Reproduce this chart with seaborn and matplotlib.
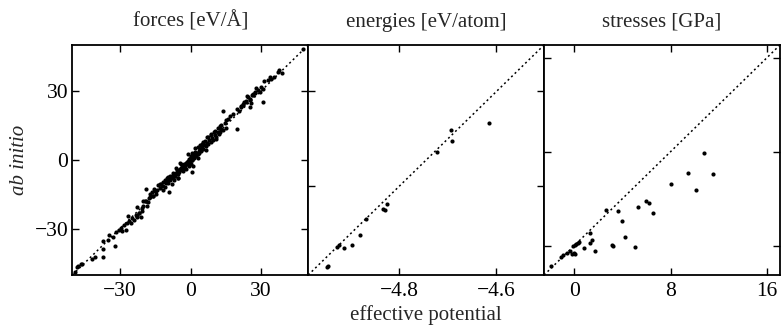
import numpy as np
import pandas as pd
import seaborn as sns
import matplotlib
matplotlib.use("Agg")
import matplotlib.pyplot as plt

# ---------------- data ----------------
force_pred = [
    -49.0, -48.0, -47.6, -46.4, -46.2, -41.8, -40.7, -37.3, -37.3, -37.0, -35.0, -34.5, -33.1,
    -31.9, -31.7, -30.5, -29.7, -29.1, -28.3, -27.4, -27.1, -26.3, -25.2, -24.9, -24.0, -26.6,
    -23.2, -22.6, -22.0, -21.2, -20.6, -20.1, -20.3, -22.6, -22.9, -21.8, -20.6, -19.5, -18.9,
    -18.6, -17.8, -17.2, -16.4, -15.8, -15.3, -14.4, -13.6, -12.7, -11.6, -10.8, -9.3, -9.9,
    -8.8, -7.4, -5.9, -4.5, -3.1, -4.5, -5.1, -1.4, 0.6, 0.6, 2.5, 3.9,
    -1.0, 0.4, 1.8, 3.2, 4.7, 6.1, 7.5, 8.9, 10.3, 11.7, 12.5, 13.1, 14.0, 14.5, 15.1, 15.9,
    16.8, 18.2, 19.6, 19.9, 20.8, 21.6, 22.5, 23.6, 24.2, 25.3, 25.8, 26.7, 27.2,
    47.7, 37.8, 37.0, 38.7, 35.6, 34.4, 33.6, 32.8, 31.1, 29.9, 30.8, 30.8, 28.5, 28.0, 27.4,
    26.5, 26.0, 25.1, 24.3, 23.7, 22.9, 22.3, 21.4, 25.1, 29.4,
    -12.0, -11.0, -10.5, -10.0, -9.5, -9.0, -8.5, -8.0, -7.5, -7.0, -6.5, -6.0, -5.5, -5.0,
    -4.8, -4.2, -3.8, -3.5, -3.0, -2.6, -2.2, -2.0, -1.6, -1.2, -0.8, -0.5, -0.2, 0.0, 0.3,
    0.5, 0.9, 1.2, 1.5, 1.9, 2.2, 2.6, 3.0, 3.4, 3.8, 4.2, 4.6, 5.0, 5.5, 6.0, 6.5, 7.0, 7.5,
    8.0, 8.5, 9.0, 9.6, 10.2, 10.8, 11.5, 12.2, 13.0, 13.8, -13.0, -14.5, -16.0, -17.0,
    -18.2, -19.0, -1.0, 1.0, -3.0, 4.0, -6.0, 7.0, -8.0, 2.0, -2.0, 0.0, 0.0, -0.6, 0.8, 3.0,
    -4.0, 5.5, -5.5, 6.5, -7.0, 8.5, -9.5, 10.0, 11.0, -11.5, 12.5, -12.8, -15.0, 15.0,
]
force_ref = [
    -49.1, -46.6, -46.2, -45.2, -45.5, -43.2, -42.2, -42.5, -39.0, -35.5, -34.9, -32.6, -33.5,
    -37.4, -31.6, -30.6, -29.7, -30.9, -28.6, -30.6, -27.7, -26.8, -27.7, -25.3, -26.2, -24.3,
    -23.9, -25.1, -23.3, -24.8, -22.4, -20.0, -17.8, -20.7, -24.3, -23.2, -20.8, -17.9, -12.7,
    -20.0, -16.5, -15.0, -14.1, -15.6, -12.7, -13.0, -11.2, -10.6, -9.8, -8.6, -14.1, -8.0,
    -6.9, -5.7, -4.5, -3.9, -2.8, -1.6, -8.0, -1.0, 0.1, -5.4, 2.4, 4.8,
    -1.0, 1.1, 3.3, 5.5, 6.8, 8.3, 9.7, 11.4, 12.4, 13.8, 12.1, 15.0, 21.4, 15.9, 17.3, 17.9,
    19.0, 19.9, 13.2, 22.0, 21.4, 23.4, 24.3, 25.2, 27.8, 26.0, 24.9, 28.1, 29.5,
    48.2, 38.9, 38.3, 37.7, 35.9, 35.4, 35.9, 34.8, 34.2, 31.9, 31.0, 25.2, 30.4, 31.3, 29.3,
    28.6, 28.1, 26.6, 27.5, 25.8, 25.2, 24.0, 23.1, 23.1, 29.5,
    -11.5, -11.8, -10.0, -9.2, -10.3, -8.5, -8.9, -7.2, -8.0, -6.5, -7.2, -5.6, -6.1, -4.4,
    -5.3, -3.8, -4.6, -3.0, -3.6, -2.0, -2.8, -1.2, -1.9, -0.6, -1.4, 0.2, -0.6, 0.0, 0.9,
    -0.3, 0.6, 1.6, 0.9, 2.2, 1.5, 3.1, 2.4, 3.9, 3.0, 4.8, 3.9, 5.6, 4.8, 6.6, 5.9, 7.5, 6.8,
    8.6, 7.9, 9.6, 8.8, 10.8, 10.0, 11.9, 11.3, 13.6, 13.1, -12.4, -14.8, -15.9, -16.2,
    -18.5, -18.0, 2.5, -2.5, -5.0, 6.5, -3.8, 9.8, -10.4, 5.0, -4.0, 1.8, -2.0, -2.8, 2.8, 0.8,
    -1.8, 7.8, -8.0, 4.4, -9.0, 11.0, -7.6, 12.2, 8.9, -13.0, 14.6, -10.6, -13.4, 14.0,
]

energy_pred = [-4.949, -4.946, -4.927, -4.923, -4.914, -4.896, -4.880, -4.868, -4.834,
               -4.830, -4.825, -4.723, -4.694, -4.692, -4.615]
energy_ref = [-4.971, -4.969, -4.927, -4.923, -4.931, -4.924, -4.903, -4.868, -4.847,
              -4.849, -4.837, -4.727, -4.681, -4.704, -4.667]

stress_pred = [-1.94, -1.06, -0.94, -0.56, -0.39, -0.17, 0.00, 0.06, -0.06, 0.06, 0.17, 0.28,
               0.39, 0.83, 1.33, 1.50, 1.28, 1.72, 2.64, 3.19, 3.10, 3.64, 4.00, 4.22, 5.06,
               5.33, 5.94, 6.22, 6.58, 8.03, 9.42, 10.14, 10.75, 11.53]
stress_ref = [-1.70, -0.99, -0.82, -0.60, -0.48, -0.71, -0.60, -0.71, -0.03, 0.06, 0.11, 0.20,
              0.31, -0.17, 0.26, 0.46, 1.05, -0.45, 3.04, 0.00, 0.02, 2.98, 2.13, 0.77, -0.09,
              3.29, 3.83, 3.66, 2.81, 5.28, 6.16, 4.71, 7.89, 6.08]

titles = ["forces [eV/Å]", "energies [eV/atom]", "stresses [GPa]"]
limits = [(-50.2, 50.0), (-4.987, -4.502), (-2.5, 17.08)]
ticks = [[-30, 0, 30], [-4.8, -4.6], [0, 8, 16]]
tick_labels = [["−30", "0", "30"], ["−4.8", "−4.6"], ["0", "8", "16"]]

# ---------------- style ----------------
sns.set_theme(style="ticks")
plt.rcParams["font.family"] = ["Liberation Serif", "DejaVu Serif"]
plt.rcParams["axes.unicode_minus"] = True

fig, axes = plt.subplots(1, 3, figsize=(7.81, 3.32), dpi=100)
fig.subplots_adjust(left=0.0926, right=0.9987, top=0.8645, bottom=0.1717, wspace=0)

datasets = [
    pd.DataFrame({"pred": force_pred, "ref": force_ref}),
    pd.DataFrame({"pred": energy_pred, "ref": energy_ref}),
    pd.DataFrame({"pred": stress_pred, "ref": stress_ref}),
]

for i, (ax, df) in enumerate(zip(axes, datasets)):
    lo, hi = limits[i]
    ax.axline((lo, lo), (hi, hi), color="black", lw=1.1, ls=(0, (1.3, 1.9)), zorder=1)
    sns.scatterplot(data=df, x="pred", y="ref", ax=ax, color="black", s=9,
                    linewidth=0, zorder=2)
    ax.set_xlim(lo, hi)
    ax.set_ylim(lo, hi)
    ax.set_xticks(ticks[i])
    ax.set_xticklabels(tick_labels[i])
    ax.set_yticks(ticks[i])
    if i == 0:
        ax.set_yticklabels(tick_labels[i])
    else:
        ax.set_yticklabels([])
    ax.tick_params(direction="in", top=True, right=True, length=5, width=1,
                   labelsize=15.5, color="black", labelcolor="black")
    ax.tick_params(axis="x", pad=5)
    ax.tick_params(axis="y", pad=3)
    for sp in ax.spines.values():
        sp.set_linewidth(1.3)
        sp.set_color("black")
    ax.set_title(titles[i], fontsize=15, pad=13)
    ax.set_xlabel("")
    ax.set_ylabel("")

axes[0].set_ylabel("ab initio", fontsize=15, style="italic", labelpad=4)
axes[1].set_xlabel("effective potential", fontsize=15, labelpad=3)

fig.savefig("out.png", dpi=100)
